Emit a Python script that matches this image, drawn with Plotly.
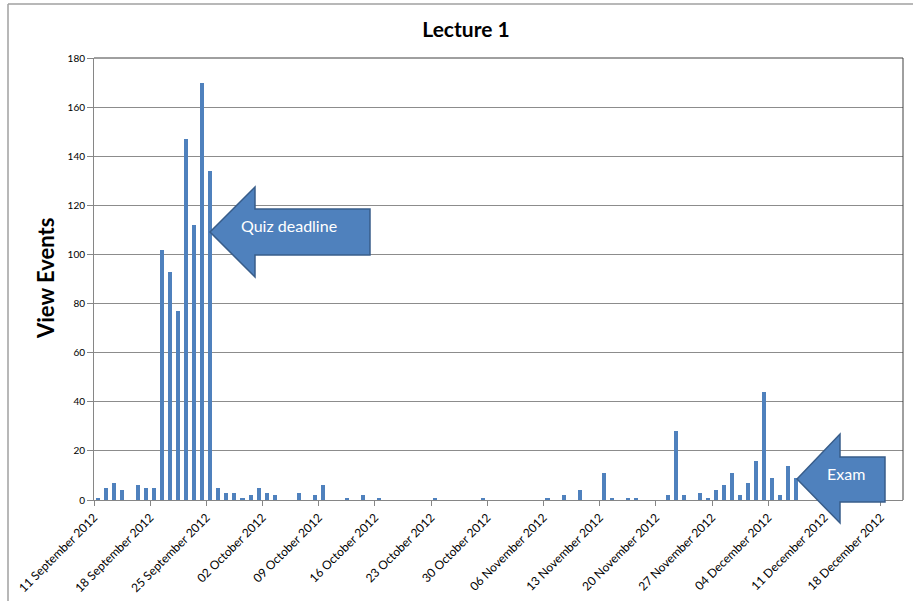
import plotly.graph_objects as go
import pandas as pd

# Daily view events for Lecture 1 (days without views are omitted)
view_dates = [
    "2012-09-11", "2012-09-12", "2012-09-13", "2012-09-14", "2012-09-16",
    "2012-09-17", "2012-09-18", "2012-09-19", "2012-09-20", "2012-09-21",
    "2012-09-22", "2012-09-23", "2012-09-24", "2012-09-25", "2012-09-26",
    "2012-09-27", "2012-09-28", "2012-09-29", "2012-09-30", "2012-10-01",
    "2012-10-02", "2012-10-03", "2012-10-06", "2012-10-08", "2012-10-09",
    "2012-10-12", "2012-10-14", "2012-10-16", "2012-10-23", "2012-10-29",
    "2012-11-06", "2012-11-08", "2012-11-10", "2012-11-13", "2012-11-14",
    "2012-11-16", "2012-11-17", "2012-11-21", "2012-11-22", "2012-11-23",
    "2012-11-25", "2012-11-26", "2012-11-27", "2012-11-28", "2012-11-29",
    "2012-11-30", "2012-12-01", "2012-12-02", "2012-12-03", "2012-12-04",
    "2012-12-05", "2012-12-06", "2012-12-07",
]
view_events = [
    1, 5, 7, 4, 6,
    5, 5, 102, 93, 77,
    147, 112, 170, 134, 5,
    3, 3, 1, 2, 5,
    3, 2, 3, 2, 6,
    1, 2, 1, 1, 1,
    1, 2, 4, 11, 1,
    1, 1, 2, 28, 2,
    3, 1, 4, 6, 11,
    2, 7, 16, 44, 9,
    2, 14, 9,
]

# Weekly tick dates on the time axis
tick_dates = pd.date_range("2012-09-11", "2012-12-18", freq="7D")
tick_labels = [d.strftime("%d %B %Y") for d in tick_dates]

BAR_BLUE = "#4F81BD"
ARROW_EDGE = "#385D8A"
FONT = "Lato"

# Plot-area geometry in pixels
W, H = 913, 601
L, R, T, B = 94, 10, 58, 101
PW, PH = W - L - R, H - T - B


def px(x):
    return (x - L) / PW


def py(y):
    return (H - B - y) / PH


def poly(points):
    return "M " + " L ".join(f"{px(x):.5f},{py(y):.5f}" for x, y in points) + " Z"


# Bars sit in the middle of each day's slot
bar_x = pd.to_datetime(view_dates) + pd.Timedelta(hours=12)
day_ms = 86400000

fig = go.Figure(
    go.Bar(
        x=bar_x,
        y=view_events,
        width=0.5 * day_ms,
        marker=dict(color=BAR_BLUE, line=dict(width=0)),
        hoverinfo="x+y",
    )
)

quiz_arrow = [(210, 232), (255, 187), (255, 209), (370, 209),
              (370, 255), (255, 255), (255, 277)]
exam_arrow = [(797, 479), (840, 434), (840, 457), (885, 457),
              (885, 502), (840, 502), (840, 523)]

shapes = [
    # chart frame (top and left edges)
    dict(type="line", xref="paper", yref="paper",
         x0=px(8), y0=py(4), x1=px(913), y1=py(4),
         line=dict(color="#A0A0A0", width=1.5)),
    dict(type="line", xref="paper", yref="paper",
         x0=px(8), y0=py(4), x1=px(8), y1=py(601),
         line=dict(color="#A0A0A0", width=1.5)),
    # plot-area border (top and right)
    dict(type="line", xref="paper", yref="paper", x0=0, y0=1, x1=1, y1=1,
         line=dict(color="#404040", width=1)),
    dict(type="line", xref="paper", yref="paper", x0=1, y0=0, x1=1, y1=1,
         line=dict(color="#404040", width=1)),
    # callout arrows
    dict(type="path", xref="paper", yref="paper", path=poly(quiz_arrow),
         fillcolor=BAR_BLUE, line=dict(color=ARROW_EDGE, width=1.5)),
    dict(type="path", xref="paper", yref="paper", path=poly(exam_arrow),
         fillcolor=BAR_BLUE, line=dict(color=ARROW_EDGE, width=1.5)),
]

annotations = [
    dict(text="Quiz deadline", xref="paper", yref="paper",
         x=px(289), y=py(225), xanchor="center", yanchor="middle",
         showarrow=False,
         font=dict(family=FONT, size=16, color="white")),
    dict(text="Exam", xref="paper", yref="paper",
         x=px(846), y=py(473), xanchor="center", yanchor="middle",
         showarrow=False,
         font=dict(family=FONT, size=16, color="white")),
    dict(text="<b>View Events</b>", xref="paper", yref="paper",
         x=px(45), y=py(279), xanchor="center", yanchor="middle",
         textangle=-90, showarrow=False,
         font=dict(family=FONT, size=22, color="black")),
]

fig.update_layout(
    width=W, height=H, autosize=False,
    margin=dict(l=L, r=R, t=T, b=B, pad=0),
    paper_bgcolor="white", plot_bgcolor="white",
    title=dict(text="<b>Lecture 1</b>", x=466 / W, y=1 - 30 / H,
               xref="container", yref="container",
               xanchor="center", yanchor="middle",
               font=dict(family=FONT, size=21, color="black")),
    font=dict(family=FONT, color="black"),
    showlegend=False,
    bargap=0,
    shapes=shapes,
    annotations=annotations,
)

fig.update_xaxes(
    type="date",
    range=["2012-09-11", "2012-12-20 19:00"],
    tickvals=tick_dates,
    ticktext=tick_labels,
    tickangle=-45,
    tickfont=dict(family=FONT, size=12, color="black"),
    ticks="outside", ticklen=5, tickcolor="#868686",
    showline=True, linecolor="#868686", linewidth=1,
    showgrid=False, zeroline=False,
    automargin=False,
)

fig.update_yaxes(
    range=[0, 180],
    tick0=0, dtick=20,
    tickfont=dict(family=FONT, size=10, color="black"),
    ticks="outside", ticklen=6, tickcolor="#868686",
    showline=True, linecolor="#868686", linewidth=1,
    showgrid=True, gridcolor="#8C8C8C", gridwidth=1,
    zeroline=False,
    automargin=False,
)

fig.write_html("out.html")
